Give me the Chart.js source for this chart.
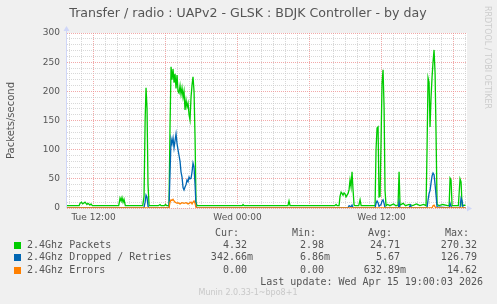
<!DOCTYPE html>
<html>
<head>
<meta charset="utf-8">
<script src="https://cdn.jsdelivr.net/npm/chart.js@4/dist/chart.umd.min.js"></script>
<style>
  html, body { margin: 0; padding: 0; background: #F0F0F0; }
  #wrap { width: 497px; height: 304px; position: relative; }
</style>
</head>
<body>
<div id="wrap"><canvas id="grafico" width="497" height="304"></canvas></div>
<script>
// hours counted from Tue 00:00 (so 24 = Wed 00:00)
const xMin = 9.79;
const xMax = 43.12;
const hourTicks = [];
for (let h = 10; h <= 43; h++) hourTicks.push(h);
const tickLabels = { 12: 'Tue 12:00', 24: 'Wed 00:00', 36: 'Wed 12:00' };
const yTicks = [0, 50, 100, 150, 200, 250, 300];

// 2.4Ghz Packets
const packetHours = [9.79, 10.8, 10.875, 11.0, 11.1, 11.29, 11.45, 11.54, 11.7, 11.79, 11.9,
  14.1, 14.21, 14.3, 14.375, 14.46, 14.54, 14.65,
  16.1, 16.21, 16.3, 16.375, 16.46, 16.54, 16.63, 17.4, 17.54, 17.63, 17.9, 18.0, 18.1,
  18.29, 18.375, 18.46, 18.54, 18.625, 18.71, 18.79, 18.875, 18.96, 19.04, 19.125, 19.21, 19.29,
  19.375, 19.46, 19.54, 19.625, 19.71, 19.79, 19.875, 19.96, 20.04, 20.125, 20.21, 20.29, 20.375,
  20.46, 20.54, 20.625, 24.4, 24.46, 24.54, 28.2, 28.29, 28.375, 32.1, 32.21, 32.3,
  32.46, 32.54, 32.63, 32.71, 32.79, 32.875, 32.96, 33.04, 33.125, 33.21, 33.29, 33.375, 33.46,
  33.54, 33.625, 33.71, 33.79, 34.1, 34.21, 34.3,
  35.46, 35.54, 35.625, 35.71, 35.79, 35.875, 35.96, 36.04, 36.125, 36.21, 36.29, 36.375,
  36.5, 36.7, 37.0, 37.2, 37.375, 37.46, 37.54, 37.8, 38.0, 38.3, 38.6, 38.9, 39.2, 39.5, 39.71,
  39.79, 39.875, 39.96, 40.04, 40.125, 40.21, 40.29, 40.375, 40.46, 40.54, 40.625, 40.8, 41.1,
  41.5, 41.63, 41.71, 41.79, 41.875, 42.4, 42.54, 42.625, 42.71, 42.9, 43.0];
const packetValues = [4, 4, 8, 10, 7, 10, 6, 8, 5, 7, 4,
  4, 17, 12, 18, 10, 15, 4,
  4, 20, 150, 206, 170, 40, 4, 4, 6, 4, 4, 6, 4,
  4, 140, 242, 220, 238, 215, 230, 205, 228, 200, 197, 210, 195,
  206, 190, 200, 168, 185, 173, 180, 160, 151, 190, 211, 225, 200,
  120, 10, 4, 4, 6, 4, 4, 12, 4, 4, 6, 4,
  4, 20, 27, 25, 22, 26, 24, 19, 22, 25, 31, 48, 36,
  62, 31, 5, 4, 4, 14, 4,
  4, 100, 137, 139, 19, 20, 116, 214, 237, 173, 30, 4,
  6, 4, 7, 4, 5, 62, 5, 8, 4, 6, 4, 7, 4, 6, 4,
  100, 223, 215, 139, 190, 225, 250, 271, 231, 128, 6, 4, 6,
  4, 4, 51, 48, 4, 4, 50, 45, 4, 5, 4.32];

// 2.4Ghz Dropped / Retries
const droppedHours = [9.79, 16.2, 16.3, 16.375, 16.46, 16.54, 16.63,
  18.29, 18.375, 18.46, 18.54, 18.625, 18.71, 18.79, 18.875, 18.96, 19.04, 19.125, 19.21, 19.29,
  19.375, 19.46, 19.54, 19.625, 19.71, 19.79, 19.875, 19.96, 20.04, 20.125, 20.21, 20.29, 20.375,
  20.46, 20.54, 20.625, 33.2, 33.3, 33.46, 33.54, 33.625,
  35.46, 35.54, 35.625, 35.71, 35.79, 35.96, 36.04, 36.125, 36.21, 36.29,
  37.4, 37.46, 37.54, 38.3, 38.4, 38.5,
  39.79, 39.875, 39.96, 40.04, 40.125, 40.21, 40.29, 40.375, 40.46, 40.54, 40.625,
  41.63, 41.71, 41.79, 41.875, 42.54, 42.625, 42.71, 42.79, 43.0];
const droppedValues = [0.3, 0.3, 10, 22, 18, 3, 0.3,
  0.3, 60, 118, 110, 120, 103, 115, 127, 110, 100, 90, 80, 62,
  53, 35, 31, 36, 40, 48, 45, 53, 50, 51, 62, 77, 70,
  40, 3, 0.3, 0.3, 4, 2, 5, 0.3,
  0.3, 8, 12, 9, 3, 6, 12, 14, 8, 0.3,
  0.3, 10, 0.3, 0.3, 5, 0.3,
  0.3, 14, 25, 30, 43, 55, 60, 57, 40, 22, 2,
  0.3, 8, 3, 0.3, 0.3, 17, 12, 0.3, 0.34];

// 2.4Ghz Errors
const errorHours = [9.79, 18.29, 18.375, 18.46, 18.54, 18.625, 18.71, 18.79, 18.875, 18.96, 19.04,
  19.125, 19.21, 19.375, 19.54, 19.71, 19.875, 19.96, 20.125, 20.21, 20.29, 20.375, 20.46, 20.54,
  20.625, 40.21, 40.29, 40.375, 40.46, 40.54, 43.0];
const errorValues = [0, 0, 10, 14, 13, 15, 12, 10, 9, 8, 9,
  8, 7, 9, 8, 9, 7, 8, 10, 7, 10, 12, 8, 1,
  0, 0, 4, 5, 2, 0, 0];

// legend table
const legendNames = ['2.4Ghz Packets', '2.4Ghz Dropped / Retries', '2.4Ghz Errors'];
const legendColors = ['#00CC00', '#0066B3', '#FF8000'];
const curValues = ['4.32 ', '342.66m', '0.00 '];
const minValues = ['2.98 ', '6.86m', '0.00 '];
const avgValues = ['24.71 ', '5.67 ', '632.89m'];
const maxValues = ['270.32 ', '126.79 ', '14.62 '];

const titulo = 'Transfer / radio : UAPv2 - GLSK : BDJK Controller - by day';
const ultimaActualizacion = 'Last update: Wed Apr 15 19:00:03 2026';
const version = 'Munin 2.0.33-1~bpo8+1';

function pares(hours, values) {
    return hours.map((h, i) => ({ x: h, y: values[i] }));
}

const COLOR_TEXTO = '#555555';
const COLOR_EJE = '#CFD6F8';
const GRID_MAYOR = 'rgba(238,140,140,0.75)';
const GRID_MENOR = 'rgba(200,200,200,0.7)';

// ==================== TEXTOS Y EJES AL ESTILO MUNIN ====================
const munin = {
    id: 'munin',
    beforeDraw(chart) {
        // fondo blanco del área de trazado
        const a = chart.chartArea;
        chart.ctx.save();
        chart.ctx.fillStyle = '#FFFFFF';
        chart.ctx.fillRect(a.left, a.top, a.right - a.left, a.bottom - a.top);
        chart.ctx.restore();
    },
    afterDraw(chart) {
        const ctx = chart.ctx;
        const a = chart.chartArea;
        ctx.save();

        // ejes y flechas
        ctx.strokeStyle = COLOR_EJE;
        ctx.fillStyle = COLOR_EJE;
        ctx.lineWidth = 1;
        ctx.beginPath();
        ctx.moveTo(a.left - 0.5, a.bottom);
        ctx.lineTo(a.left - 0.5, a.top - 3);
        ctx.stroke();
        ctx.beginPath();
        ctx.moveTo(a.left - 3.5, a.top - 2);
        ctx.lineTo(a.left - 0.5, a.top - 7);
        ctx.lineTo(a.left + 2.5, a.top - 2);
        ctx.fill();
        ctx.beginPath();
        ctx.moveTo(a.right, a.bottom - 2.5);
        ctx.lineTo(a.right + 5, a.bottom + 0.5);
        ctx.lineTo(a.right, a.bottom + 3.5);
        ctx.fill();

        // titulo
        ctx.fillStyle = COLOR_TEXTO;
        ctx.font = '12.6px "DejaVu Sans"';
        ctx.textAlign = 'center';
        ctx.textBaseline = 'middle';
        ctx.fillText(titulo, 248, 14);

        // leyenda
        ctx.font = '10px "DejaVu Sans Mono"';
        ctx.textAlign = 'right';
        ctx.fillText('Cur:', 239, 233);
        ctx.fillText('Min:', 316, 233);
        ctx.fillText('Avg:', 392, 233);
        ctx.fillText('Max:', 469, 233);
        const filas = [245, 257, 270];
        filas.forEach((y, i) => {
            ctx.fillStyle = legendColors[i];
            ctx.fillRect(14, y - 3, 7, 7);
            ctx.fillStyle = COLOR_TEXTO;
            ctx.textAlign = 'left';
            ctx.fillText(legendNames[i], 27, y);
            ctx.textAlign = 'right';
            ctx.fillText(curValues[i], 253, y);
            ctx.fillText(minValues[i], 330, y);
            ctx.fillText(avgValues[i], 406, y);
            ctx.fillText(maxValues[i], 483, y);
        });
        ctx.fillText(ultimaActualizacion, 483, 282);

        // pie
        ctx.fillStyle = '#C8C8C8';
        ctx.font = '8px "DejaVu Sans"';
        ctx.textAlign = 'center';
        ctx.fillText(version, 248, 293);

        // marca vertical de rrdtool
        ctx.translate(487, 6);
        ctx.rotate(Math.PI / 2);
        ctx.textAlign = 'left';
        ctx.fillStyle = '#CCCCCC';
        ctx.fillText('RRDTOOL / TOBI OETIKER', 0, 0);
        ctx.restore();
    }
};

// ==================== CREAR GRÁFICO ====================
const grafico = new Chart(document.getElementById('grafico'), {
    type: 'line',
    data: {
        datasets: [{
            label: legendNames[0],
            data: pares(packetHours, packetValues),
            borderColor: legendColors[0],
            order: 3
        }, {
            label: legendNames[1],
            data: pares(droppedHours, droppedValues),
            borderColor: legendColors[1],
            order: 2
        }, {
            label: legendNames[2],
            data: pares(errorHours, errorValues),
            borderColor: legendColors[2],
            order: 1
        }]
    },
    options: {
        responsive: false,
        animation: false,
        devicePixelRatio: 1,
        layout: { padding: { left: 0, top: 33, right: 30, bottom: 0 } },
        elements: {
            point: { radius: 0 },
            line: { borderWidth: 1.3, tension: 0 }
        },
        plugins: {
            legend: { display: false },
            tooltip: { enabled: false }
        },
        scales: {
            x: {
                type: 'linear',
                min: xMin,
                max: xMax,
                afterBuildTicks: (scale) => { scale.ticks = hourTicks.map(v => ({ value: v })); },
                afterFit: (scale) => { scale.height = 96; },
                grid: {
                    color: (c) => (c.tick && c.tick.value % 6 === 0) ? GRID_MAYOR : GRID_MENOR,
                    drawTicks: false
                },
                border: { display: false, dash: [1, 1] },
                ticks: {
                    autoSkip: false,
                    maxRotation: 0,
                    padding: 4,
                    color: COLOR_TEXTO,
                    font: { family: 'DejaVu Sans', size: 9 },
                    callback: (v) => tickLabels[v] || ''
                }
            },
            y: {
                min: 0,
                max: 300,
                afterBuildTicks: (scale) => {
                    const t = [];
                    for (let v = 0; v <= 300; v += 10) t.push({ value: v });
                    scale.ticks = t;
                },
                afterFit: (scale) => { scale.width = 67; },
                grid: {
                    color: (c) => (c.tick && c.tick.value % 50 === 0) ? GRID_MAYOR : GRID_MENOR,
                    drawTicks: false
                },
                border: { display: false, dash: [1, 1] },
                ticks: {
                    autoSkip: false,
                    padding: 7,
                    color: COLOR_TEXTO,
                    font: { family: 'DejaVu Sans', size: 9 },
                    callback: (v) => yTicks.includes(v) ? String(v) : ''
                },
                title: {
                    display: true,
                    text: 'Packets/second',
                    color: COLOR_TEXTO,
                    font: { family: 'DejaVu Sans', size: 10 },
                    padding: { top: 5, bottom: 0 }
                }
            }
        }
    },
    plugins: [munin]
});
</script>
</body>
</html>
